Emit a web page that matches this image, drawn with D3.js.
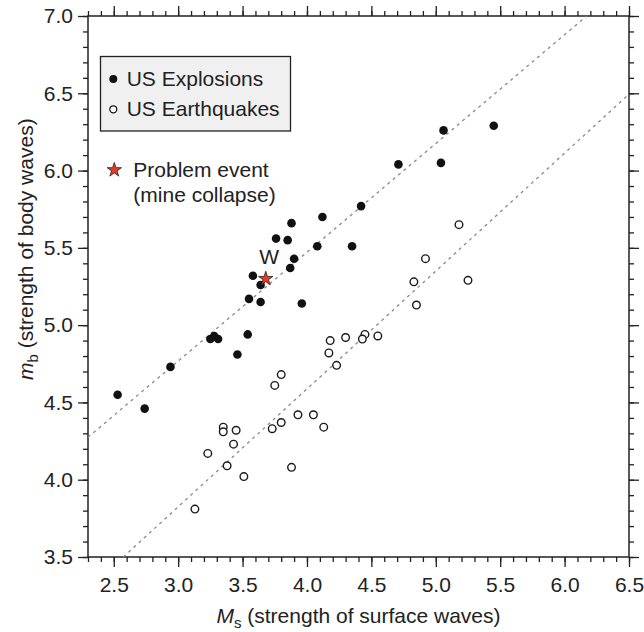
<!DOCTYPE html>
<head>
  <meta charset="utf-8">
  <script src="https://cdn.jsdelivr.net/npm/d3@7/dist/d3.min.js"></script>
  <style>
    body { margin: 0; background: white; }
    text { font-family: "Liberation Sans", Arial, Helvetica, sans-serif; fill: #222; }
  </style>
</head>
<body>
  <div id="chartDiv"></div>
  <script>

  // US explosions (filled dots): [Ms, mb]
  var explosions = [
    [5.45, 6.29], [5.06, 6.26], [4.71, 6.04], [5.04, 6.05], [4.42, 5.77],
    [4.12, 5.70], [4.35, 5.51], [3.88, 5.66], [3.76, 5.56], [3.85, 5.55],
    [4.08, 5.51], [3.90, 5.43], [3.87, 5.37], [3.58, 5.32], [3.64, 5.26],
    [3.55, 5.17], [3.64, 5.15], [3.96, 5.14], [3.54, 4.94], [3.25, 4.91],
    [3.28, 4.93], [3.31, 4.91], [3.46, 4.81], [2.94, 4.73], [2.53, 4.55],
    [2.74, 4.46]
  ];

  // US earthquakes (open circles): [Ms, mb]
  var earthquakes = [
    [5.18, 5.65], [4.92, 5.43], [4.83, 5.28], [5.25, 5.29], [4.85, 5.13],
    [4.18, 4.90], [4.30, 4.92], [4.45, 4.94], [4.43, 4.91], [4.55, 4.93],
    [4.17, 4.82], [4.23, 4.74], [3.80, 4.68], [3.75, 4.61], [3.93, 4.42],
    [4.05, 4.42], [3.80, 4.37], [3.73, 4.33], [4.13, 4.34], [3.35, 4.34],
    [3.35, 4.31], [3.45, 4.32], [3.43, 4.23], [3.23, 4.17], [3.38, 4.09],
    [3.88, 4.08], [3.51, 4.02], [3.13, 3.81]
  ];

  // the problem event
  var problemEvent = [3.68, 5.30];
  var problemLabel = "W";

  // dashed discriminant lines: [[x1, y1], [x2, y2]]
  var dashedLines = [
    [[2.3, 4.275], [6.172, 7.0]],
    [[2.574, 3.5], [6.5, 6.494]]
  ];

  var xDomain = [2.3, 6.5];
  var yDomain = [3.5, 7.0];
  var xMajorTicks = [2.5, 3.0, 3.5, 4.0, 4.5, 5.0, 5.5, 6.0, 6.5];
  var yMajorTicks = [3.5, 4.0, 4.5, 5.0, 5.5, 6.0, 6.5, 7.0];

  var legendItems = ["US Explosions", "US Earthquakes"];
  var eventLegend = ["Problem event", "(mine collapse)"];

  var chartWidth = 644;
  var chartHeight = 632;
  var plotLeft = 88, plotRight = 629, plotTop = 16, plotBottom = 557;

  var svg = d3.select("#chartDiv").append("svg")
    .attr("width", chartWidth)
    .attr("height", chartHeight);

  var x = d3.scaleLinear().domain(xDomain).range([plotLeft, plotRight]);
  var y = d3.scaleLinear().domain(yDomain).range([plotBottom, plotTop]);

  var xMinor = d3.range(23, 66).map(function(d) { return d / 10; });
  var yMinor = d3.range(35, 71).map(function(d) { return d / 10; });

  function styleAxis(g) {
    g.select(".domain").remove();
    g.selectAll("line").attr("stroke", "#222").attr("stroke-width", 1.3);
    g.selectAll("text").style("font-size", "21px").attr("fill", "#222");
  }

  // minor ticks on all four sides
  svg.append("g").attr("transform", "translate(0," + plotBottom + ")")
    .call(d3.axisBottom(x).tickValues(xMinor).tickSize(5).tickFormat(""))
    .call(styleAxis);
  svg.append("g").attr("transform", "translate(0," + plotTop + ")")
    .call(d3.axisTop(x).tickValues(xMinor).tickSize(5).tickFormat(""))
    .call(styleAxis);
  svg.append("g").attr("transform", "translate(" + plotLeft + ",0)")
    .call(d3.axisLeft(y).tickValues(yMinor).tickSize(5).tickFormat(""))
    .call(styleAxis);
  svg.append("g").attr("transform", "translate(" + plotRight + ",0)")
    .call(d3.axisRight(y).tickValues(yMinor).tickSize(5).tickFormat(""))
    .call(styleAxis);

  // major ticks
  svg.append("g").attr("transform", "translate(0," + plotBottom + ")")
    .call(d3.axisBottom(x).tickValues(xMajorTicks).tickSize(10).tickPadding(10).tickFormat(d3.format(".1f")))
    .call(styleAxis);
  svg.append("g").attr("transform", "translate(0," + plotTop + ")")
    .call(d3.axisTop(x).tickValues(xMajorTicks).tickSize(10).tickFormat(""))
    .call(styleAxis);
  svg.append("g").attr("transform", "translate(" + plotLeft + ",0)")
    .call(d3.axisLeft(y).tickValues(yMajorTicks).tickSize(10).tickPadding(5).tickFormat(d3.format(".1f")))
    .call(styleAxis);
  svg.append("g").attr("transform", "translate(" + plotRight + ",0)")
    .call(d3.axisRight(y).tickValues(yMajorTicks).tickSize(10).tickFormat(""))
    .call(styleAxis);

  // frame
  svg.append("rect")
    .attr("x", plotLeft)
    .attr("y", plotTop)
    .attr("width", plotRight - plotLeft)
    .attr("height", plotBottom - plotTop)
    .style("fill", "none")
    .style("stroke", "#222")
    .style("stroke-width", 1.5);

  // dashed lines
  svg.append("g").selectAll("line")
    .data(dashedLines)
    .enter()
    .append("line")
    .attr("x1", function(d) { return x(d[0][0]); })
    .attr("y1", function(d) { return y(d[0][1]); })
    .attr("x2", function(d) { return x(d[1][0]); })
    .attr("y2", function(d) { return y(d[1][1]); })
    .style("stroke", "#888")
    .style("stroke-width", 1.3)
    .style("stroke-dasharray", "3,4");

  // earthquakes
  svg.append("g").selectAll("circle")
    .data(earthquakes)
    .enter()
    .append("circle")
    .attr("cx", function(d) { return x(d[0]); })
    .attr("cy", function(d) { return y(d[1]); })
    .attr("r", 3.8)
    .style("fill", "white")
    .style("stroke", "#1a1a1a")
    .style("stroke-width", 1.4);

  // explosions
  svg.append("g").selectAll("circle")
    .data(explosions)
    .enter()
    .append("circle")
    .attr("cx", function(d) { return x(d[0]); })
    .attr("cy", function(d) { return y(d[1]); })
    .attr("r", 4.3)
    .style("fill", "#111");

  var star = d3.symbol().type(d3.symbolStar).size(64);

  // problem event star + label
  svg.append("path")
    .attr("d", star)
    .attr("transform", "translate(" + x(problemEvent[0]) + "," + y(problemEvent[1]) + ")")
    .style("fill", "#e33b26")
    .style("stroke", "#222")
    .style("stroke-width", 0.8);

  svg.append("text")
    .attr("x", x(problemEvent[0]) + 3.5)
    .attr("y", y(problemEvent[1]) - 15)
    .attr("text-anchor", "middle")
    .style("font-size", "21px")
    .text(problemLabel);

  // legend box
  var legend = svg.append("g");
  legend.append("rect")
    .attr("x", 100.5)
    .attr("y", 56.5)
    .attr("width", 190)
    .attr("height", 74.5)
    .style("fill", "#f0f0f0")
    .style("stroke", "#222")
    .style("stroke-width", 1.3);

  legend.selectAll(".legendMark")
    .data(legendItems)
    .enter()
    .append("circle")
    .attr("cx", 113.3)
    .attr("cy", function(d, i) { return 79 + i * 30.3; })
    .attr("r", function(d, i) { return i == 0 ? 4 : 3.5; })
    .style("fill", function(d, i) { return i == 0 ? "#111" : "white"; })
    .style("stroke", function(d, i) { return i == 0 ? "none" : "#1a1a1a"; })
    .style("stroke-width", 1.3);

  legend.selectAll(".legendText")
    .data(legendItems)
    .enter()
    .append("text")
    .attr("x", 126.7)
    .attr("y", function(d, i) { return 85.5 + i * 30.3; })
    .style("font-size", "21px")
    .text(function(d) { return d; });

  legend.append("path")
    .attr("d", star)
    .attr("transform", "translate(114.3,170)")
    .style("fill", "#e33b26")
    .style("stroke", "#222")
    .style("stroke-width", 0.8);

  legend.selectAll(".eventText")
    .data(eventLegend)
    .enter()
    .append("text")
    .attr("x", 133.3)
    .attr("y", function(d, i) { return 176.5 + i * 25.5; })
    .style("font-size", "21px")
    .text(function(d) { return d; });

  // axis titles
  var xTitle = svg.append("text")
    .attr("x", (plotLeft + plotRight) / 2)
    .attr("y", 622.5)
    .attr("text-anchor", "middle")
    .style("font-size", "21px");
  xTitle.append("tspan").style("font-style", "italic").text("M");
  xTitle.append("tspan").attr("dy", 5).style("font-size", "15px").text("s");
  xTitle.append("tspan").attr("dy", -5).text(" (strength of surface waves)");

  var yTitle = svg.append("text")
    .attr("transform", "translate(33,380) rotate(-90)")
    .attr("text-anchor", "start")
    .style("font-size", "21px");
  yTitle.append("tspan").style("font-style", "italic").text("m");
  yTitle.append("tspan").attr("dy", 5).style("font-size", "15px").text("b");
  yTitle.append("tspan").attr("dy", -5).text(" (strength of body waves)");

  </script>
</body>
